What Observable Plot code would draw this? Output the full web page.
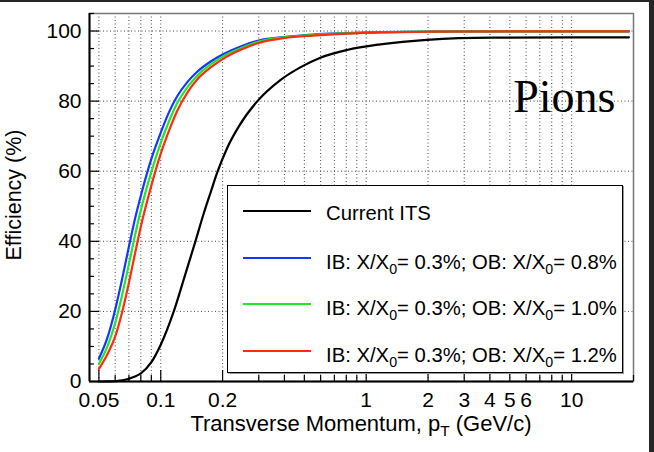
<!DOCTYPE html>
<html>
<head>
<meta charset="utf-8">
<script src="https://cdn.jsdelivr.net/npm/d3@7"></script>
<script src="https://cdn.jsdelivr.net/npm/@observablehq/plot@0.6"></script>
<style>
  html, body { margin: 0; padding: 0; background: #fff; }
  #wrap { position: relative; width: 654px; height: 452px; overflow: hidden; font-family: "Liberation Sans", Arial, Helvetica, sans-serif; }
  .abs { position: absolute; white-space: nowrap; color: #000; }
  sub { font-size: 0.7em; vertical-align: -0.35em; line-height: 0; }
</style>
</head>
<body>
<div id="wrap"></div>
<script>
// ---- data ----
const itsPt  = [0.05, 0.055, 0.06, 0.065, 0.07, 0.075, 0.08, 0.09, 0.1, 0.1157, 0.13, 0.1475, 0.162, 0.175, 0.188, 0.21, 0.24, 0.2954, 0.382, 0.48, 0.598, 0.806, 1.171, 1.976, 4.15, 19];
const itsEff = [0, 0.02, 0.1, 0.3, 0.8, 1.4, 2.3, 5.5, 10.5, 20, 29.5, 40, 48, 54, 59.5, 66.5, 72.8, 80, 86.0, 89.7, 92.4, 94.6, 96.2, 97.5, 98.1, 98.2];

const ob08Pt  = [0.05, 0.055, 0.06, 0.065, 0.07, 0.075, 0.08, 0.09, 0.1, 0.11, 0.12, 0.135, 0.15, 0.175, 0.2, 0.25, 0.3, 0.4, 0.55, 0.8, 1.2, 2, 5, 19];
const ob08Eff = [6.5, 12.5, 20.5, 29.5, 38.5, 46.5, 53, 63.5, 71, 77, 81.3, 85.5, 88.3, 91.3, 93.3, 95.8, 97.3, 98.3, 99, 99.4, 99.7, 99.85, 99.9, 99.9];

const ob10Pt  = [0.05, 0.055, 0.06, 0.065, 0.07, 0.075, 0.08, 0.09, 0.1, 0.11, 0.12, 0.135, 0.15, 0.175, 0.2, 0.25, 0.3, 0.4, 0.55, 0.8, 1.2, 2, 5, 19];
const ob10Eff = [5, 10, 16.7, 24.9, 33.5, 41.8, 48.9, 59.8, 68.1, 74.4, 79.3, 84, 87.2, 90.5, 92.7, 95.3, 97, 98.2, 98.9, 99.35, 99.65, 99.85, 99.9, 99.9];

const ob12Pt  = [0.05, 0.055, 0.06, 0.065, 0.07, 0.075, 0.08, 0.09, 0.1, 0.11, 0.12, 0.135, 0.15, 0.175, 0.2, 0.25, 0.3, 0.4, 0.55, 0.8, 1.2, 2, 5, 19];
const ob12Eff = [3.6, 7.8, 12.8, 20, 28.2, 36.6, 44.2, 55.9, 65, 71.7, 77.1, 82.5, 86.1, 89.6, 92, 94.9, 96.6, 98, 98.7, 99.25, 99.6, 99.8, 99.9, 99.9];

const seriesNames = ["Current ITS", "IB: X/X0= 0.3%; OB: X/X0= 0.8%", "IB: X/X0= 0.3%; OB: X/X0= 1.0%", "IB: X/X0= 0.3%; OB: X/X0= 1.2%"];
const seriesColors = ["#000000", "#1437ff", "#22e622", "#ff2a12"];

const xMajorTicks = [0.05, 0.1, 0.2, 1, 2, 3, 4, 5, 6, 10];
const xTickLabels = ["0.05", "0.1", "0.2", "1", "2", "3", "4", "5", "6", "10"];
const xMinorTicks = [0.06, 0.07, 0.08, 0.09, 0.3, 0.4, 0.5, 0.6, 0.7, 0.8, 0.9, 7, 8, 9, 20];
const xGridTicks = [0.05, 0.06, 0.07, 0.08, 0.09, 0.1, 0.2, 0.3, 0.4, 0.5, 0.6, 0.7, 0.8, 0.9, 1, 2, 3, 4, 5, 6, 7, 8, 9, 10];
const yMajorTicks = [0, 20, 40, 60, 80, 100];
const yTickLabels = ["0", "20", "40", "60", "80", "100"];
const yMinorTicks = [5, 10, 15, 25, 30, 35, 45, 50, 55, 65, 70, 75, 85, 90, 95, 105];
const yGridTicks = [20, 40, 60, 80, 100];
const xDomain = [0.045, 20];
const yDomain = [0, 105];
const annotation = ["Pions"];

// ---- build ----
const allPt = [itsPt, ob08Pt, ob10Pt, ob12Pt];
const allEff = [itsEff, ob08Eff, ob10Eff, ob12Eff];
const rows = [];
allPt.forEach((pts, i) => pts.forEach((p, j) => rows.push({pt: p, eff: allEff[i][j], s: seriesNames[i]})));

const font = "'Liberation Sans', Arial, Helvetica, sans-serif";
const chart = Plot.plot({
  width: 654, height: 452,
  marginLeft: 89, marginRight: 21, marginTop: 13, marginBottom: 71,
  x: {type: "log", domain: xDomain},
  y: {domain: yDomain},
  color: {domain: seriesNames, range: seriesColors},
  style: {fontFamily: font, fontSize: "21px", color: "#000", background: "transparent", overflow: "visible"},
  marks: [
    Plot.gridX(xGridTicks, {stroke: "#333", strokeOpacity: 0.9, strokeDasharray: "1,2.5"}),
    Plot.gridY(yGridTicks, {stroke: "#333", strokeOpacity: 0.9, strokeDasharray: "1,2.5"}),
    Plot.frame({stroke: "#777", strokeWidth: 1.5}),
    Plot.axisX(xMajorTicks, {tickSize: -11, tickFormat: () => "", label: null, strokeWidth: 1.2}),
    Plot.axisX(xMinorTicks, {tickSize: -6, tickFormat: () => "", label: null, strokeWidth: 1.2}),
    Plot.axisY(yMajorTicks, {tickSize: -10, tickFormat: () => "", label: null, strokeWidth: 1.2}),
    Plot.axisY(yMinorTicks, {tickSize: -5, tickFormat: () => "", label: null, strokeWidth: 1.2}),
    Plot.text(xMajorTicks, {x: d => d, text: (d, i) => xTickLabels[i], frameAnchor: "bottom", lineAnchor: "top", dy: 11, fontSize: 21, fill: "#000"}),
    Plot.text(yMajorTicks, {y: d => d, text: (d, i) => yTickLabels[i], frameAnchor: "left", textAnchor: "end", dx: -8, fontSize: 21, fill: "#000"}),
    Plot.ruleY([yDomain[0]], {stroke: "#000", strokeWidth: 2}),
    Plot.ruleX([xDomain[0]], {stroke: "#000", strokeWidth: 2}),
    Plot.line(rows, {x: "pt", y: "eff", z: "s", stroke: "s", strokeWidth: 2.2, curve: "monotone-x"}),
    Plot.text(annotation, {x: 5.19, y: 76.9, text: d => d, textAnchor: "start", lineAnchor: "bottom", fontFamily: "'Liberation Serif', 'Times New Roman', serif", fontSize: 46, fill: "#000"})
  ]
});

const wrap = document.getElementById("wrap");
chart.style.position = "absolute";
chart.style.left = "0px";
chart.style.top = "0px";
wrap.appendChild(chart);

function fmtLabel(s) {
  return s.replace(/X0/g, "X<sub>0</sub>");
}

// axis titles
const xt = document.createElement("div");
xt.className = "abs";
xt.style.cssText = "left:0;width:722px;top:411px;text-align:center;font-size:22px;";
xt.innerHTML = "Transverse Momentum, p<sub>T</sub> (GeV/c)";
wrap.appendChild(xt);

const yt = document.createElement("div");
yt.className = "abs";
yt.style.cssText = "left:14px;top:195px;font-size:21.5px;transform:translate(-50%,-50%) rotate(-90deg);";
yt.textContent = "Efficiency (%)";
wrap.appendChild(yt);

// legend
const lg = document.createElement("div");
lg.className = "abs";
lg.style.cssText = "left:227px;top:185px;width:394px;height:186px;border:1.5px solid #000;background:#fff;box-shadow:1px 1px 0 #999;";
wrap.appendChild(lg);
const lineY = [25, 71.7, 118.3, 165];
seriesNames.forEach((name, i) => {
  const ln = document.createElement("div");
  ln.className = "abs";
  ln.style.cssText = `left:15px;top:${lineY[i] - 1}px;width:68px;height:2px;background:${seriesColors[i]};`;
  lg.appendChild(ln);
  const tx = document.createElement("div");
  tx.className = "abs";
  tx.style.cssText = `left:98px;top:${lineY[i] - 12 + (i === 0 ? 2 : 4)}px;font-size:20.3px;line-height:24px;`;
  tx.innerHTML = fmtLabel(name);
  lg.appendChild(tx);
});

// dark screenshot border
const topBar = document.createElement("div");
topBar.className = "abs";
topBar.style.cssText = "left:0;top:0;width:654px;height:2px;background:#262626;";
wrap.appendChild(topBar);
const rightBar = document.createElement("div");
rightBar.className = "abs";
rightBar.style.cssText = "left:649px;top:0;width:5px;height:452px;background:#262626;";
wrap.appendChild(rightBar);
</script>
</body>
</html>
